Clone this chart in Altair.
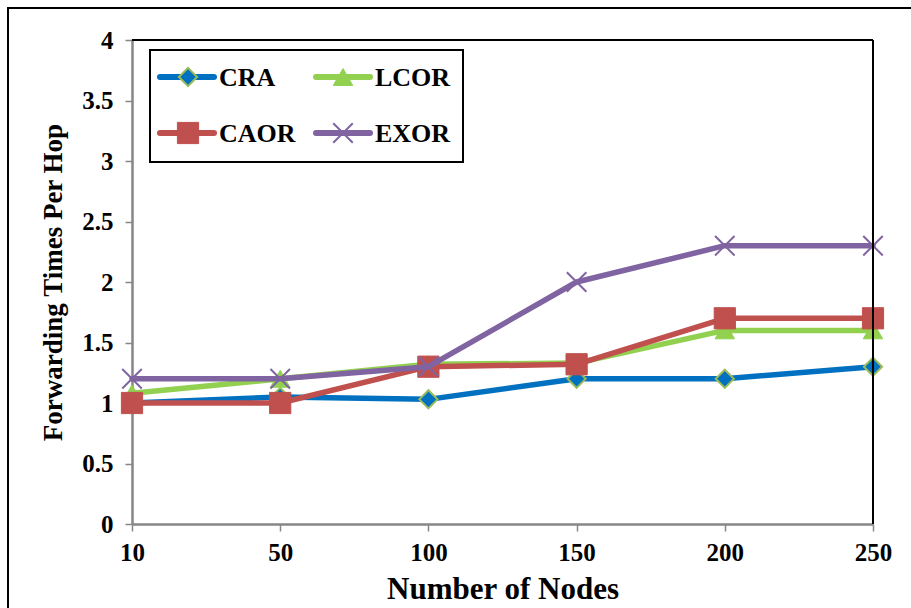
import altair as alt
import pandas as pd

nodes = ["10", "50", "100", "150", "200", "250"]
series_names = ["CRA", "LCOR", "CAOR", "EXOR"]
cra = [1.0, 1.05, 1.03, 1.2, 1.2, 1.3]
lcor = [1.08, 1.2, 1.32, 1.33, 1.6, 1.6]
caor = [1.0, 1.0, 1.3, 1.32, 1.7, 1.7]
exor = [1.2, 1.2, 1.3, 2.0, 2.3, 2.3]
y_ticks = [0, 0.5, 1, 1.5, 2, 2.5, 3, 3.5, 4]

values = {"CRA": cra, "LCOR": lcor, "CAOR": caor, "EXOR": exor}
colors = {"CRA": "#0070C0", "LCOR": "#92D050", "CAOR": "#C0504D", "EXOR": "#8064A2"}

W, H = 741, 484
FONT = "Liberation Serif"
XPATH = "M-1,-1L1,1M-1,1L1,-1"

xenc = alt.X("nodes:O", sort=nodes,
             scale=alt.Scale(type="point", padding=0),
             axis=alt.Axis(title="Number of Nodes", labelAngle=0, labelFont=FONT,
                           labelFontSize=25, labelFontWeight="bold", labelColor="black",
                           titleFont=FONT, titleFontSize=31, titleFontWeight="bold",
                           titleColor="black", titlePadding=9, labelPadding=9,
                           domainColor="#868686", domainWidth=2.5, tickColor="#868686",
                           tickWidth=1.5, tickSize=7, grid=False))
yenc = alt.Y("value:Q",
             scale=alt.Scale(domain=[0, 4], nice=False),
             axis=alt.Axis(title="Forwarding Times Per Hop", values=y_ticks, format="~g",
                           labelFont=FONT, labelFontSize=25, labelFontWeight="bold",
                           labelColor="black", labelPadding=12,
                           titleFont=FONT, titleFontSize=27, titleFontWeight="bold",
                           titleColor="black", titlePadding=14,
                           domainColor="#868686", domainWidth=2.5, tickColor="#868686",
                           tickWidth=1.5, tickSize=7, grid=False))

layers = []

# outer frame
frame_df = pd.DataFrame({"k": [0]})
layers.append(alt.Chart(frame_df).mark_rect(fill=None, stroke="black", strokeWidth=2).encode(
    x=alt.value(-124), y=alt.value(-32), x2=alt.value(1000), y2=alt.value(700)))

# series
marker_specs = {
    "CRA": dict(shape="diamond", filled=True, size=330, fill="#0070C0", stroke="#9BBB59", strokeWidth=2),
    "LCOR": dict(shape="triangle-up", filled=True, size=380, fill="#92D050", stroke="#92D050", strokeWidth=1),
    "CAOR": dict(shape="square", filled=True, size=450, fill="#C0504D", stroke="#C0504D", strokeWidth=1),
    "EXOR": dict(shape=XPATH, filled=False, size=380, stroke="#8064A2", strokeWidth=2),
}

for name in series_names:
    df = pd.DataFrame({"nodes": nodes, "value": values[name], "series": name})
    base = alt.Chart(df)
    layers.append(base.mark_line(color=colors[name], strokeWidth=5.5, strokeCap="round",
                                 strokeJoin="round").encode(x=xenc, y=yenc))
    layers.append(base.mark_point(opacity=1, **marker_specs[name]).encode(x=xenc, y=yenc))

# plot-area top & right border
layers.append(alt.Chart(frame_df).mark_rule(color="black", strokeWidth=2).encode(
    x=alt.value(0), x2=alt.value(W), y=alt.value(0)))
layers.append(alt.Chart(frame_df).mark_rule(color="black", strokeWidth=2).encode(
    x=alt.value(W), y=alt.value(0), y2=alt.value(H)))

# legend box
layers.append(alt.Chart(frame_df).mark_rect(fill="white", stroke="black", strokeWidth=2).encode(
    x=alt.value(18), x2=alt.value(331), y=alt.value(10), y2=alt.value(122)))

legend_pos = {
    "CRA": (28, 56, 87, 37),
    "LCOR": (184, 211, 243, 37),
    "CAOR": (28, 56, 87, 93),
    "EXOR": (184, 211, 243, 93),
}
for name in series_names:
    lx, mx, tx, ly = legend_pos[name]
    ldf = pd.DataFrame({"series": [name]})
    lb = alt.Chart(ldf)
    layers.append(lb.mark_rule(color=colors[name], strokeWidth=6, strokeCap="round").encode(
        x=alt.value(lx), x2=alt.value(lx + 54), y=alt.value(ly)))
    layers.append(lb.mark_point(opacity=1, **marker_specs[name]).encode(
        x=alt.value(mx), y=alt.value(ly)))
    layers.append(lb.mark_text(align="left", baseline="middle", font=FONT, fontSize=26,
                               fontWeight="bold", color="black", dy=1).encode(
        x=alt.value(tx), y=alt.value(ly), text="series:N"))

chart = alt.layer(*layers).properties(
    width=W, height=H,
    autosize=alt.AutoSizeParams(type="none"),
    padding={"left": 132, "top": 40, "right": 38, "bottom": 84},
    background="white",
).configure_view(stroke=None)

chart.save("out.html", embed_options={"renderer": "svg", "actions": False})
